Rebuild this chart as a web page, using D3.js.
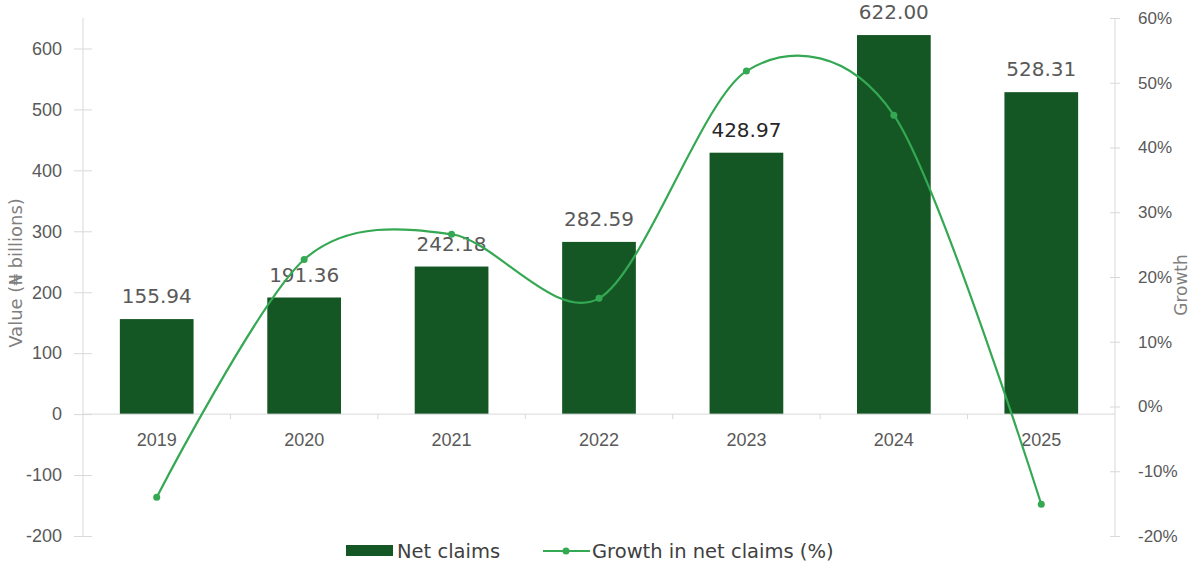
<!DOCTYPE html>
<html>
<head>
<meta charset="utf-8">
<script src="https://cdn.jsdelivr.net/npm/d3@7"></script>
<style>
  html, body { margin: 0; padding: 0; background: #fff; }
  svg { display: block; font-family: "DejaVu Sans", "Liberation Sans", Arial, sans-serif; }
</style>
</head>
<body>
<svg id="chart" width="1192" height="568"></svg>
<script>
// Net claims by year (₦ billions) and year-on-year growth (%)
const years = ["2019", "2020", "2021", "2022", "2023", "2024", "2025"];
const netClaims = [155.94, 191.36, 242.18, 282.59, 428.97, 622.00, 528.31];
const growthPct = [-14.0, 22.7, 26.6, 16.7, 51.8, 45.0, -15.1];
const leftTicks = [-200, -100, 0, 100, 200, 300, 400, 500, 600];
const rightTicks = [-20, -10, 0, 10, 20, 30, 40, 50, 60];

const barColor = "#155724";
const lineColor = "#34a853";
const axisColor = "#d9d9d9";
const textColor = "#595959";

const svg = d3.select("#chart");
const plot = { left: 83, right: 1115, top: 18, bottom: 536 };

const x = d3.scaleBand()
  .domain(years)
  .range([plot.left, plot.right])
  .paddingInner(0.5)
  .paddingOuter(0.25);

const yLeft = d3.scaleLinear().domain([-200, 650]).range([plot.bottom, plot.top]);
const yRight = d3.scaleLinear().domain([-20, 60]).range([plot.bottom, plot.top]);

// Bars
svg.append("g").selectAll("rect")
  .data(years)
  .join("rect")
  .attr("x", d => x(d))
  .attr("width", x.bandwidth())
  .attr("y", (d, i) => yLeft(netClaims[i]))
  .attr("height", (d, i) => yLeft(0) - yLeft(netClaims[i]))
  .attr("fill", barColor);

// Left axis
const leftAxis = svg.append("g")
  .attr("transform", `translate(${plot.left},0)`)
  .call(d3.axisLeft(yLeft).tickValues(leftTicks).tickSize(9).tickPadding(12).tickFormat(d => String(d)));
leftAxis.select(".domain").attr("stroke", axisColor).attr("d", `M0,${plot.top}V${plot.bottom}`);
leftAxis.selectAll(".tick line").attr("stroke", axisColor).attr("x2", 18).attr("transform", "translate(-9,0)");
leftAxis.selectAll(".tick text").attr("fill", textColor).style("font-size", "18px");

// Right axis
const rightAxis = svg.append("g")
  .attr("transform", `translate(${plot.right},0)`)
  .call(d3.axisRight(yRight).tickValues(rightTicks).tickSize(5).tickPadding(18).tickFormat(d => String(d) + "%"));
rightAxis.select(".domain").attr("stroke", axisColor).attr("d", `M0,${plot.top}V${plot.bottom}`);
rightAxis.selectAll(".tick line").attr("stroke", axisColor).attr("x1", -5);
rightAxis.selectAll(".tick text").attr("fill", textColor).style("font-size", "17px");

// Category axis along the zero line
const xAxis = svg.append("g")
  .attr("transform", `translate(0,${yLeft(0)})`)
  .call(d3.axisBottom(x).tickSize(0).tickPadding(19));
xAxis.select(".domain").attr("stroke", axisColor).attr("d", `M${plot.left},0H${plot.right}`);
xAxis.selectAll(".tick text").attr("fill", textColor).style("font-size", "18px");
// Boundary tick marks between categories
const step = x.step();
const bounds = d3.range(years.length + 1).map(i => x(years[0]) - step * 0.25 + i * step);
xAxis.append("g").selectAll("line")
  .data(bounds.slice(1, -1))
  .join("line")
  .attr("x1", d => d).attr("x2", d => d)
  .attr("y1", 0).attr("y2", 5)
  .attr("stroke", axisColor);

// Data labels above bars
svg.append("g").selectAll("text")
  .data(years)
  .join("text")
  .attr("x", d => x(d) + x.bandwidth() / 2)
  .attr("y", (d, i) => yLeft(netClaims[i]) - 16)
  .attr("text-anchor", "middle")
  .attr("fill", d => d === "2023" ? "#262626" : textColor)
  .style("font-size", "20px")
  .text((d, i) => netClaims[i].toFixed(2));

// Growth line (smoothed) with markers
const cx = d => x(d) + x.bandwidth() / 2;
const line = d3.line()
  .x(d => cx(d))
  .y((d, i) => yRight(growthPct[i]))
  .curve(d3.curveCardinal.tension(0.1));
svg.append("path")
  .datum(years)
  .attr("d", line)
  .attr("fill", "none")
  .attr("stroke", lineColor)
  .attr("stroke-width", 2.2);
svg.append("g").selectAll("circle")
  .data(years)
  .join("circle")
  .attr("cx", cx)
  .attr("cy", (d, i) => yRight(growthPct[i]))
  .attr("r", 3.5)
  .attr("fill", lineColor);

// Axis titles
svg.append("text")
  .attr("transform", `translate(22,273) rotate(-90)`)
  .attr("text-anchor", "middle")
  .attr("fill", "#7f7f7f")
  .style("font-size", "18px")
  .text("Value (₦ billions)");
svg.append("text")
  .attr("transform", `translate(1187,285) rotate(-90)`)
  .attr("text-anchor", "middle")
  .attr("fill", "#7f7f7f")
  .style("font-size", "17px")
  .text("Growth");

// Legend
const legend = svg.append("g");
legend.append("rect")
  .attr("x", 346).attr("y", 545).attr("width", 47).attr("height", 11)
  .attr("fill", barColor);
legend.append("text")
  .attr("x", 397).attr("y", 551).attr("dy", "0.35em")
  .attr("fill", "#404040").style("font-size", "19.5px")
  .text("Net claims");
legend.append("line")
  .attr("x1", 543).attr("x2", 590).attr("y1", 551).attr("y2", 551)
  .attr("stroke", lineColor).attr("stroke-width", 2.2);
legend.append("circle")
  .attr("cx", 566).attr("cy", 551).attr("r", 3.5).attr("fill", lineColor);
legend.append("text")
  .attr("x", 592).attr("y", 551).attr("dy", "0.35em")
  .attr("fill", "#404040").style("font-size", "19.5px")
  .text("Growth in net claims (%)");
</script>
</body>
</html>
